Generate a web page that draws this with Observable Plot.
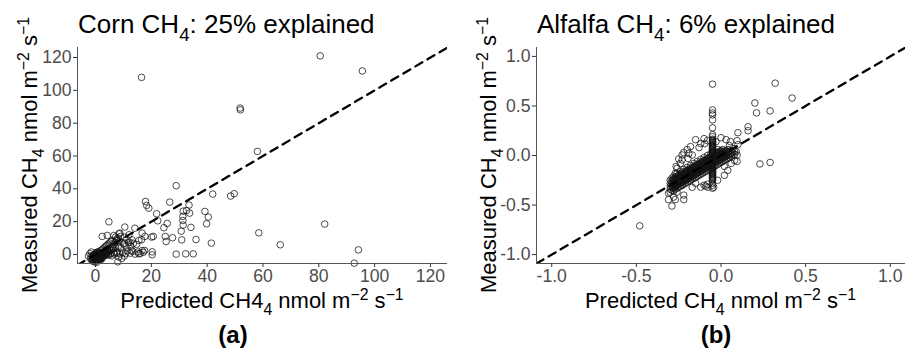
<!DOCTYPE html>
<html><head><meta charset="utf-8">
<script src="https://cdn.jsdelivr.net/npm/d3@7"></script>
<script src="https://cdn.jsdelivr.net/npm/@observablehq/plot@0.6"></script>
<style>
html,body{margin:0;padding:0;background:#fff;}
#fig{position:relative;width:905px;height:349px;overflow:hidden;background:#fff;}
#fig svg{position:absolute;top:0;}
</style></head><body><div id="fig"></div>
<script>
// ---------- data (predicted, measured) ----------
const cornScatter = [
[80.5,121],[95.6,111.8],[51.8,89.2],[51.9,88.1],[16.5,107.9],[58,62.8],[42,36.8],[48.4,35.6],[49.7,37],
[39.2,26.2],[40.4,22.8],[39.8,18.7],[41.5,6.9],[58.5,13.2],[66.2,5.9],[82.1,18.5],[94.2,2.8],[92.7,-5.3],
[28.9,41.9],[17.9,32.3],[18.3,29.9],[19.1,28.2],[21.9,24.8],[22.3,20.5],[26.6,31.9],[4.8,19.9],[25.7,18.9],
[24.5,16.3],[25,11],[25.3,7.9],[27.6,10.2],[31.4,26.4],[32.6,26.8],[33.5,30.1],[33.7,25.2],[31.3,23.2],
[31.3,20.7],[31.4,17.9],[30.7,14.2],[34.2,16.5],[30.9,8.9],[36,9.1],[28.9,0.2],[32.3,0.4],[35,0.4],
[20.7,11],[20.3,1.6],[20.3,-0.2],[10.5,16.7],[14.1,16],[16.7,13],[17.7,11],[20.1,10.6],[15.5,8.5],
[16.5,9],[8.7,13],[7.2,10.6],[12.3,7.5],[16.7,2.4],[12,12]
];
const cornCluster = [
[-0.8,-3.2],[-0.5,-2.8],[-0.3,-3.5],[0,-2.5],[0.2,-3],[0.4,-2.2],[0.6,-2.7],[0.8,-1.8],[1,-2.4],[1.2,-1.5],
[-0.6,-1.9],[-0.2,-1.5],[0.1,-1.2],[0.3,-0.8],[0.5,-1.4],[0.7,-0.6],[0.9,-1],[1.1,-0.3],[1.3,-0.9],[1.5,-0.2],
[1.6,-1.6],[1.8,0.3],[2,-0.5],[2.2,0.8],[2.4,0],[2.6,1.2],[2.8,0.4],[3,1.6],[3.2,0.7],[3.4,2.1],
[3.6,1],[3.8,2.6],[4,1.4],[4.3,3],[4.6,1.8],[4.9,3.5],[5.2,2.2],[5.5,4],[5.8,2.7],[6.1,4.6],
[0,0.5],[0.3,1.2],[0.6,0.2],[1,1.8],[1.4,0.9],[2,2.5],[2.5,3.2],[3,4],[3.5,4.8],[4,5.5],
[4.5,6.3],[5,7],[5.5,7.8],[6,8.5],[6.5,6],[7,7.2],[7.5,9],[8,10],[8.5,8],[9,11],
[-1,-4],[-0.4,-4.5],[0.5,-3.8],[1.5,-2.9],[2.5,-1.5],[3.5,-0.5],[4.5,0.2],[5.5,0.5],[6.5,1],[7.5,0.8],
[1.9,-2.2],[2.9,-0.9],[3.9,-0.2],[4.8,-0.4],[5.9,-0.8],[6.8,0.2],[7.8,1.5],[8.8,0.3],[9.8,1.2],[10.8,0.5],
[11.5,2.2],[12.4,0.8],[13.3,1.9],[14.2,0.2],[15.2,1.5],[16,0.6],[17.1,1.3],[9.4,-2.4],[8.3,-1.5],[10.3,-1],
[6.4,3.5],[7.2,4.2],[8.2,5],[9.1,4],[10,6.3],[10.9,5.2],[11.8,7.1],[12.7,4.9],[13.6,6.8],[11.2,9.1],
[2.4,11],[4.2,11.6],[6.6,11.6],[8.4,12.6],[10.4,10.6],[13.1,8.9],[14.7,6.1],[17.6,2.4],[7.8,8.5],[10.4,6.9],
[12.8,2.4],[15.5,0.4],[-2.5,-1],[-2,0.5],[-1.8,-2.5],[-1.5,1.5],[-1.2,-0.5],[8,-4.5],[-0.9,-1],[0.2,-0.3],
[1.2,0.4],[0.4,-4.8],[1.7,-3.4],[2.3,-2.6],[-1.4,-3.3],
[-0.7,-2.2],[-0.4,-1],[-0.1,-2],[0.1,-3.9],[0.3,-2.6],[0.5,-0.4],[0.7,-3.3],[0.9,-2],[1.1,-1.2],[1.3,-2.6],
[1.5,0.3],[1.7,-0.8],[1.9,-1.4],[2.1,0.1],[2.3,-1],[2.5,0.7],[2.7,-0.3],[2.9,1],[3.1,-0.1],[3.3,0.4],
[3.5,1.4],[3.7,0.2],[3.9,1.8],[4.1,0.7],[4.4,2.4],[-0.2,0],[0,-0.9],[0.4,0.8],[0.8,-0.2],[1.2,1.2],
[-0.6,-0.4],[-0.9,-2.6],[0.2,-1.8],[0.6,-1.1],[1,-0.7],[1.4,-1.9],[1.8,-2.7],[2.2,-1.9],[2.6,-0.9],[3,-0.6]
];
// alfalfa dense blob: [predicted, [measured...]]
const alfalfaBlob = [
[-0.30,[-0.37,-0.34,-0.31,-0.28,-0.25]],
[-0.29,[-0.35,-0.32,-0.29,-0.26,-0.23]],
[-0.28,[-0.36,-0.33,-0.30,-0.27,-0.24,-0.21]],
[-0.27,[-0.34,-0.31,-0.28,-0.25,-0.22]],
[-0.26,[-0.33,-0.30,-0.27,-0.24,-0.21,-0.18]],
[-0.25,[-0.32,-0.29,-0.26,-0.23,-0.20]],
[-0.24,[-0.31,-0.28,-0.25,-0.22,-0.19,-0.16]],
[-0.23,[-0.30,-0.27,-0.24,-0.21,-0.18]],
[-0.22,[-0.29,-0.26,-0.23,-0.20,-0.17,-0.14]],
[-0.21,[-0.28,-0.25,-0.22,-0.19,-0.16]],
[-0.20,[-0.27,-0.24,-0.21,-0.18,-0.15,-0.12]],
[-0.19,[-0.26,-0.23,-0.20,-0.17,-0.14]],
[-0.18,[-0.25,-0.22,-0.19,-0.16,-0.13,-0.10]],
[-0.17,[-0.24,-0.21,-0.18,-0.15,-0.12]],
[-0.16,[-0.23,-0.20,-0.17,-0.14,-0.11,-0.08]],
[-0.15,[-0.22,-0.19,-0.16,-0.13,-0.10]],
[-0.14,[-0.21,-0.18,-0.15,-0.12,-0.09,-0.06]],
[-0.13,[-0.20,-0.17,-0.14,-0.11,-0.08]],
[-0.12,[-0.19,-0.16,-0.13,-0.10,-0.07,-0.04]],
[-0.11,[-0.18,-0.15,-0.12,-0.09,-0.06]],
[-0.10,[-0.17,-0.14,-0.11,-0.08,-0.05,-0.02]],
[-0.09,[-0.16,-0.13,-0.10,-0.07,-0.04]],
[-0.08,[-0.15,-0.12,-0.09,-0.06,-0.03,0.00]],
[-0.07,[-0.14,-0.11,-0.08,-0.05,-0.02]],
[-0.06,[-0.13,-0.10,-0.07,-0.04,-0.01,0.02]],
[-0.04,[-0.11,-0.08,-0.05,-0.02,0.01,0.04]],
[-0.03,[-0.10,-0.07,-0.04,-0.01,0.02]],
[-0.02,[-0.09,-0.06,-0.03,0.00,0.03,0.06]],
[-0.01,[-0.08,-0.05,-0.02,0.01,0.04]],
[0.00,[-0.07,-0.04,-0.01,0.02,0.05]],
[0.01,[-0.06,-0.03,0.00,0.03,0.06]],
[0.02,[-0.05,-0.02,0.01,0.04]],
[0.03,[-0.04,-0.01,0.02,0.05]],
[0.04,[-0.03,0.00,0.03,0.06]],
[0.05,[-0.02,0.01,0.04]],
[0.06,[-0.01,0.02,0.05]],
[0.07,[0.00,0.03]],
[0.08,[0.01,0.04]]
];
// densest core of the alfalfa cloud: [predicted, [measured...]]
const alfalfaBlobCore = [
[-0.285,[-0.31,-0.28,-0.25]],[-0.275,[-0.30,-0.27,-0.24]],[-0.265,[-0.29,-0.26,-0.23]],
[-0.255,[-0.28,-0.25,-0.22]],[-0.245,[-0.27,-0.24,-0.21]],[-0.235,[-0.26,-0.23,-0.20]],
[-0.225,[-0.25,-0.22,-0.19]],[-0.215,[-0.24,-0.21,-0.18]],[-0.205,[-0.23,-0.20,-0.17]],
[-0.195,[-0.22,-0.19,-0.16]],[-0.185,[-0.21,-0.18,-0.15]],[-0.175,[-0.20,-0.17,-0.14]],
[-0.165,[-0.19,-0.16,-0.13]],[-0.155,[-0.18,-0.15,-0.12]],[-0.145,[-0.17,-0.14,-0.11]],
[-0.135,[-0.16,-0.13,-0.10]],[-0.125,[-0.15,-0.12,-0.09]],[-0.115,[-0.14,-0.11,-0.08]],
[-0.105,[-0.13,-0.10,-0.07]],[-0.095,[-0.12,-0.09,-0.06]],[-0.085,[-0.11,-0.08,-0.05]],
[-0.075,[-0.10,-0.07,-0.04]],[-0.065,[-0.09,-0.06,-0.03]],[-0.035,[-0.06,-0.03,0.00]],
[-0.025,[-0.05,-0.02,0.01]],[-0.015,[-0.04,-0.01,0.02]],[-0.005,[-0.03,0.00,0.03]],
[0.005,[-0.02,0.01,0.04]],[0.015,[-0.01,0.02]],[0.025,[0.00,0.03]],[0.035,[0.01,0.04]]
];
// vertical bar of measured values at a constant prediction
const alfalfaBarPredicted = -0.05;
const alfalfaBarMeasured = [-0.33,-0.30,-0.28,-0.25,-0.243,-0.234,-0.226,-0.217,-0.209,-0.2,-0.192,-0.183,
-0.175,-0.166,-0.158,-0.149,-0.141,-0.132,-0.124,-0.115,-0.107,-0.098,-0.09,-0.081,-0.073,-0.064,-0.056,
-0.047,-0.039,-0.03,-0.022,-0.013,-0.005,0.004,0.012,0.021,0.029,0.038,0.046,0.055,0.063,0.072,0.08,0.089,
0.097,0.106,0.114,0.123,0.131,0.14,0.148,0.157,0.165,0.19,0.21,0.28,0.36,0.41,0.43,0.46,0.72];
const alfalfaScatter = [
[-0.48,-0.71],[-0.29,-0.51],[-0.31,-0.445],[-0.28,-0.42],[-0.27,-0.445],[-0.31,-0.38],[-0.26,-0.37],
[-0.22,-0.445],[-0.22,-0.40],[-0.265,-0.11],[-0.25,-0.035],[-0.23,0.005],[-0.19,0.02],[-0.195,-0.03],
[-0.17,0.005],[-0.15,0.16],[-0.1,0.17],[-0.096,0.12],[0,0.18],[0.03,0.16],[0.055,0.14],[0.095,0.15],
[0.1,0.11],[0.095,0.005],[0.095,-0.06],[0.02,-0.11],[-0.043,-0.32],[-0.077,-0.32],[-0.12,-0.32],
[-0.15,-0.28],[-0.21,-0.25],[0.16,0.29],[0.16,0.25],[0.10,0.23],[0.23,-0.085],[0.29,-0.07],[0.2,0.53],
[0.21,0.43],[0.29,0.45],[0.32,0.73],[0.42,0.58],[-0.27,-0.18],[-0.26,-0.13],[-0.24,-0.08],[-0.23,-0.045],
[-0.22,0.03],[-0.2,0.06],[-0.18,0.09],[-0.13,0.08],[-0.12,0.12],[-0.08,0.15],[-0.03,0.14],[0.05,0.1],
[0.07,0.07],[0.09,0.04],[0.02,-0.2],[0.04,-0.15],[-0.02,-0.25],[-0.08,-0.29],[-0.1,-0.3],[0.06,-0.08],
[0.08,-0.05],[-0.27,-0.32],[-0.23,-0.30],[-0.17,-0.32],[-0.09,-0.31]
];

// ---------- axes / text ----------
const cornXDomain = [-6.45, 126.1];
const cornYDomain = [-5.5, 126.1];
const cornTicks = [0, 20, 40, 60, 80, 100, 120];
const alfalfaDomain = [-1.09, 1.09];
const alfalfaTicks = [-1, -0.5, 0, 0.5, 1];
const cornTitle = [{t:"Corn CH"},{t:"4",sub:true},{t:": 25% explained"}];
const alfalfaTitle = [{t:"Alfalfa CH"},{t:"4",sub:true},{t:": 6% explained"}];
const cornXLabel = [{t:"Predicted CH4"},{t:"4",sub:true},{t:" nmol m"},{t:"\u22122",sup:true},{t:" s"},{t:"\u22121",sup:true}];
const alfalfaXLabel = [{t:"Predicted CH"},{t:"4",sub:true},{t:" nmol m"},{t:"\u22122",sup:true},{t:" s"},{t:"\u22121",sup:true}];
const yLabel = [{t:"Measured CH"},{t:"4",sub:true},{t:" nmol m"},{t:"\u22122",sup:true},{t:" s"},{t:"\u22121",sup:true}];
const panelTags = ["(a)", "(b)"];

const FONT = '"Liberation Sans", Arial, Helvetica, sans-serif';

function rich(sel, parts, size) {
  let shift = 0;
  for (const p of parts) {
    const target = p.sub ? size * 0.3 : p.sup ? -size * 0.38 : 0;
    sel.append("tspan")
      .attr("dy", target - shift)
      .attr("font-size", (p.sub || p.sup) ? size * 0.72 : size)
      .text(p.t);
    shift = target;
  }
}

function panel(o) {
  const svg = Plot.plot({
    width: o.width, height: 349,
    marginLeft: o.marginLeft, marginRight: o.marginRight, marginTop: 47, marginBottom: 86,
    x: {domain: o.xDomain}, y: {domain: o.yDomain},
    style: {fontFamily: FONT, background: "transparent", overflow: "visible"},
    marks: [
      Plot.dot(o.points, {x: d => d[0], y: d => d[1], r: 3.3, stroke: "#111", strokeWidth: 0.75, fill: "none"}),
      Plot.line(o.xDomain, {x: d => d, y: d => d, stroke: "#000", strokeWidth: 2.3, strokeDasharray: "8,6", clip: true}),
      Plot.ruleX([o.xDomain[0]], {stroke: "#555", strokeWidth: 1}),
      Plot.ruleY([o.yDomain[0]], {stroke: "#555", strokeWidth: 1}),
      Plot.axisX(o.ticks, {tickSize: 4, tickPadding: 2, tickFormat: o.fmt, fontSize: 17.6, fill: "#4d4d4d", stroke: "#333", label: null}),
      Plot.axisY(o.ticks, {tickSize: 4, tickPadding: 2, tickFormat: o.fmt, fontSize: 17.6, fill: "#4d4d4d", stroke: "#333", label: null})
    ]
  });
  svg.style.left = o.left + "px";
  const s = d3.select(svg);
  const g = s.append("g").attr("font-family", FONT).attr("fill", "#000");
  rich(g.append("text").attr("x", o.marginLeft + 1).attr("y", 33).attr("text-anchor", "start"), o.title, 26);
  const cx = o.marginLeft + (o.width - o.marginLeft - o.marginRight) / 2;
  rich(g.append("text").attr("x", cx).attr("y", 308).attr("text-anchor", "middle"), o.xLabel, 22);
  rich(g.append("text").attr("transform", `translate(${o.yTitleX},155) rotate(-90)`).attr("text-anchor", "middle"), yLabel, 22);
  g.append("text").attr("x", o.tagX).attr("y", 343).attr("text-anchor", "middle")
    .attr("font-size", 24).attr("font-weight", "bold").text(o.tag);
  document.getElementById("fig").appendChild(svg);
}

const alfalfaPoints = [
  ...alfalfaBlob.flatMap(([x, ys]) => ys.map(y => [x, y])),
  ...alfalfaBlobCore.flatMap(([x, ys]) => ys.map(y => [x, y])),
  ...alfalfaBarMeasured.map(y => [alfalfaBarPredicted, y]),
  ...alfalfaScatter
];

panel({
  points: [...cornCluster, ...cornScatter], xDomain: cornXDomain, yDomain: cornYDomain,
  ticks: cornTicks, fmt: d => String(d), width: 452, left: 0, marginLeft: 77, marginRight: 5,
  title: cornTitle, xLabel: cornXLabel, yTitleX: 37, tag: panelTags[0], tagX: 233
});
panel({
  points: alfalfaPoints, xDomain: alfalfaDomain, yDomain: alfalfaDomain,
  ticks: alfalfaTicks, fmt: d => d.toFixed(1), width: 453, left: 452, marginLeft: 84, marginRight: 0,
  title: alfalfaTitle, xLabel: alfalfaXLabel, yTitleX: 44, tag: panelTags[1], tagX: 264
});
</script></body></html>
